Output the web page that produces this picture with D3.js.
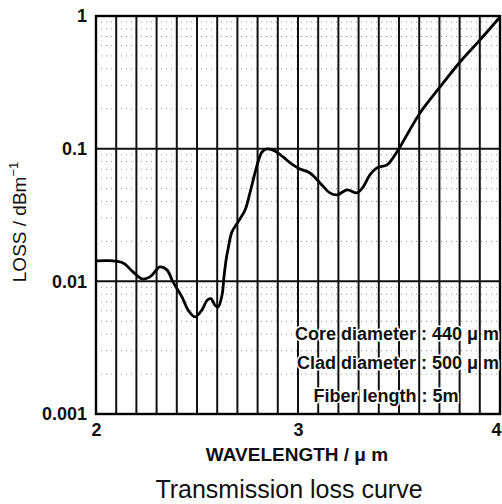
<!DOCTYPE html>
<html>
<head>
<meta charset="utf-8">
<script src="https://cdn.jsdelivr.net/npm/d3@7"></script>
<style>
  html, body { margin: 0; padding: 0; background: #fff; }
  svg { display: block; font-family: "Liberation Sans", Arial, sans-serif; }
</style>
</head>
<body>
<div id="root"></div>
<script>
// wavelength (um) and loss (dB/m)
const wavelength = [2.0, 2.069, 2.134, 2.183, 2.228, 2.267, 2.317, 2.351, 2.381, 2.426,
  2.455, 2.49, 2.525, 2.55, 2.569, 2.589, 2.604, 2.624, 2.634, 2.644,
  2.653, 2.673, 2.703, 2.738, 2.762, 2.787, 2.802, 2.822, 2.847, 2.886,
  2.926, 2.975, 3.01, 3.059, 3.109, 3.158, 3.193, 3.243, 3.292, 3.322,
  3.356, 3.391, 3.441, 3.47, 3.505, 3.604, 3.703, 3.802, 3.901, 4.0]
const loss = [0.01425, 0.0143, 0.01376, 0.01177, 0.01043, 0.0108, 0.01285, 0.0122, 0.0099, 0.0076,
  0.0061, 0.0054, 0.0061, 0.0072, 0.0074, 0.0066, 0.0064, 0.0079, 0.011, 0.0145,
  0.0173, 0.0236, 0.028, 0.0345, 0.0464, 0.0656, 0.0794, 0.0944, 0.0995, 0.0961,
  0.0866, 0.0754, 0.0703, 0.0656, 0.0552, 0.0464, 0.0448, 0.0489, 0.0464, 0.0514,
  0.0634, 0.0716, 0.0754, 0.0851, 0.103, 0.186, 0.292, 0.45, 0.66, 0.983]

const xTicks = [2, 3, 4]
const yTicks = [0.001, 0.01, 0.1, 1]
const yTickLabels = ["0.001", "0.01", "0.1", "1"]
const notes = ["Core diameter : 440 \u03bc m", "Clad diameter : 500 \u03bc m", "Fiber length : 5m"]

const W = 502, H = 504
const m = {top: 16, right: 2, bottom: 90, left: 96}
const w = W - m.left - m.right, h = H - m.top - m.bottom

const svg = d3.select("#root").append("svg").attr("width", W).attr("height", H)
const g = svg.append("g").attr("transform", `translate(${m.left},${m.top})`)

const x = d3.scaleLinear().domain([2, 4]).range([0, w])
const y = d3.scaleLog().domain([0.001, 1]).range([h, 0])

// minor log grid (faint dots)
const minor = []
for (let p = -3; p < 0; p++) for (let k = 2; k <= 9; k++) minor.push(k * Math.pow(10, p))
g.append("g").selectAll("line").data(minor).join("line")
  .attr("x1", 0).attr("x2", w)
  .attr("y1", d => y(d)).attr("y2", d => y(d))
  .attr("stroke", "#888").attr("stroke-width", 0.9).attr("stroke-dasharray", "1,4")

// vertical grid every 0.1 um
g.append("g").selectAll("line").data(d3.range(2.1, 4, 0.1)).join("line")
  .attr("x1", d => x(d)).attr("x2", d => x(d))
  .attr("y1", 0).attr("y2", h)
  .attr("stroke", "#111").attr("stroke-width", 2)

// decade lines
g.append("g").selectAll("line").data([0.01, 0.1]).join("line")
  .attr("x1", 0).attr("x2", w)
  .attr("y1", d => y(d)).attr("y2", d => y(d))
  .attr("stroke", "#111").attr("stroke-width", 2)

g.append("rect").attr("width", w).attr("height", h)
  .attr("fill", "none").attr("stroke", "#000").attr("stroke-width", 2.4)

// axes (labels only, frame drawn above)
const yAxis = g.append("g").call(d3.axisLeft(y).tickValues(yTicks).tickSize(0).tickPadding(9)
  .tickFormat((d, i) => yTickLabels[i]))
const xAxis = g.append("g").attr("transform", `translate(0,${h})`)
  .call(d3.axisBottom(x).tickValues(xTicks).tickSize(0).tickPadding(9).tickFormat(d3.format("d")))
for (const a of [xAxis, yAxis]) {
  a.select(".domain").remove()
  a.selectAll("text").attr("font-family", "Liberation Sans, Arial, sans-serif")
    .attr("font-size", 18).attr("font-weight", "bold").attr("fill", "#111")
}
// keep the last x label inside the page
xAxis.selectAll(".tick").filter(d => d === 4).select("text").attr("text-anchor", "end").attr("x", 1)

// notes
g.append("g").selectAll("text").data(notes).join("text")
  .attr("x", (d, i) => i === 2 ? x(3.8) - 1 : w - 1)
  .attr("y", (d, i) => [324, 353, 386][i])
  .attr("text-anchor", "end")
  .attr("font-size", 18).attr("font-weight", "bold").attr("fill", "#111")
  .attr("stroke", "#fff").attr("stroke-width", 3).attr("paint-order", "stroke")
  .text(d => d)

// curve
const line = d3.line().x(d => x(d[0])).y(d => y(d[1])).curve(d3.curveCatmullRom)
g.append("path").datum(d3.zip(wavelength, loss))
  .attr("d", line).attr("fill", "none")
  .attr("stroke", "#000").attr("stroke-width", 2.8).attr("stroke-linejoin", "round")

// axis titles
svg.append("text").attr("x", 297).attr("y", 461).attr("text-anchor", "middle")
  .attr("font-size", 19).attr("font-weight", "bold").attr("fill", "#111")
  .text("WAVELENGTH / \u03bc m")

const yl = svg.append("text").attr("transform", "translate(26,222) rotate(-90)")
  .attr("text-anchor", "middle").attr("font-size", 19).attr("fill", "#111")
yl.append("tspan").text("LOSS / dBm")
yl.append("tspan").attr("dy", -8).attr("font-size", 13).text("\u22121")

svg.append("text").attr("x", 289).attr("y", 498).attr("text-anchor", "middle")
  .attr("font-size", 25).attr("fill", "#111")
  .text("Transmission loss curve")
</script>
</body>
</html>
